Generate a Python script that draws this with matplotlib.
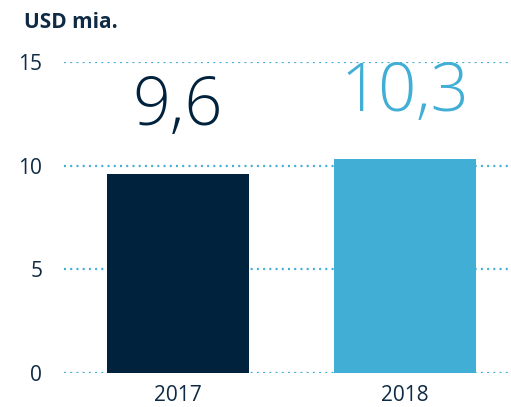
import matplotlib.pyplot as plt

years = ["2017", "2018"]
values = [9.6, 10.3]
labels = ["9,6", "10,3"]
bar_colors = ["#00223D", "#41AED6"]
yticks = [0, 5, 10, 15]

NAVY = "#0F2A44"
GRID = "#41AED6"

plt.rcParams["font.family"] = ["Open Sans", "DejaVu Sans"]

fig = plt.figure(figsize=(5.11, 4.07), dpi=100)
ax = fig.add_axes([0.125, 0.0835, 0.869, 0.7645])

x = range(len(years))
ax.bar(x, values, width=0.625, color=bar_colors, zorder=3)

for xi, v, lab, c in zip(x, values, labels, bar_colors):
    ax.text(xi, v + 2.35, lab, ha="center", va="baseline", fontsize=48,
            color=c, fontweight="light", clip_on=False)

ax.set_xlim(-0.502, 1.454)
ax.set_ylim(0, 15)
ax.set_yticks(yticks)
ax.set_xticks(list(x))
ax.set_xticklabels(years)
ax.yaxis.grid(True, color=GRID, linestyle=(0, (0.9, 1.9)), linewidth=1.6)
ax.set_axisbelow(True)
for s in ax.spines.values():
    s.set_visible(False)
ax.tick_params(axis="both", length=0, labelsize=15, labelcolor=NAVY)
ax.tick_params(axis="y", pad=15.5)
ax.tick_params(axis="x", pad=8.5)

fig.text(24 / 511, 1 - 22 / 407, "USD mia.", fontsize=15, fontweight="bold",
         color=NAVY, va="center", ha="left")

fig.savefig("out.png", dpi=100)
